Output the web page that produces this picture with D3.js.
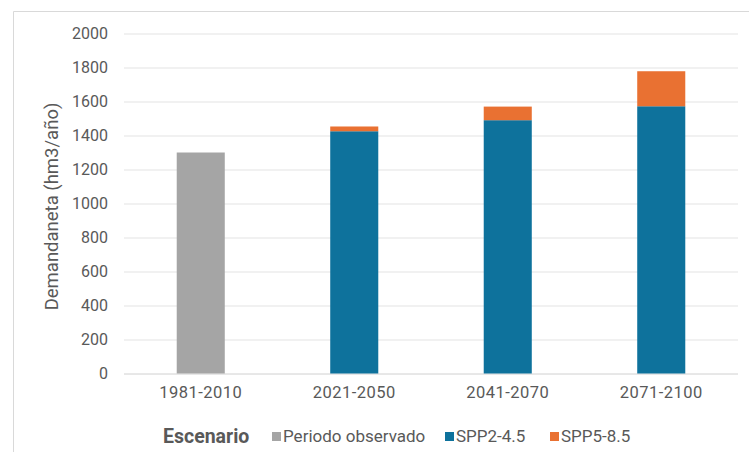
<!DOCTYPE html>
<html>
<head>
<meta charset="utf-8">
<script src="https://cdn.jsdelivr.net/npm/d3@7"></script>
<style>
  body { margin: 0; background: #fff; }
  text { font-family: Roboto, "Liberation Sans", sans-serif; }
</style>
</head>
<body>
<div id="chart"></div>
<script>
/** categories and series */
var periods = ["1981-2010", "2021-2050", "2041-2070", "2071-2100"];
var observed = [1300, 0, 0, 0];
var spp245 = [0, 1425, 1490, 1572];
var spp585 = [0, 28, 80, 206];
var seriesNames = ["Periodo observado", "SPP2-4.5", "SPP5-8.5"];
var seriesColors = ["#a5a5a5", "#0e729c", "#e97132"];
var yTicks = [0, 200, 400, 600, 800, 1000, 1200, 1400, 1600, 1800, 2000];

var W = 749, H = 452;
var margin = {top: 33.5, right: 11, bottom: 78.5, left: 124};
var width = W - margin.left - margin.right,
    height = H - margin.top - margin.bottom;

var svg = d3.select("#chart")
  .append("svg")
    .attr("width", W)
    .attr("height", H);

/** chart area border (only top and left show) */
svg.append("path")
  .attr("d", "M13.5,452 V11.5 H749")
  .attr("fill", "none")
  .attr("stroke", "#d9d9d9");

var g = svg.append("g")
  .attr("transform", "translate(" + margin.left + "," + margin.top + ")");

var x = d3.scaleBand()
  .domain(periods)
  .range([0, width])
  .paddingInner(0.687)
  .paddingOuter(0.3435);

var y = d3.scaleLinear()
  .domain([0, 2000])
  .range([height, 0]);

/** gridlines */
g.append("g")
  .selectAll("line")
  .data(yTicks)
  .enter().append("line")
    .attr("x1", 0)
    .attr("x2", width)
    .attr("y1", function(d) { return Math.round(y(d)) + 0.5; })
    .attr("y2", function(d) { return Math.round(y(d)) + 0.5; })
    .attr("stroke", function(d) { return d === 0 ? "#d0d0d0" : "#e3e3e3"; })
    .attr("stroke-width", 1);

/** y axis labels */
var yAxis = g.append("g")
  .call(d3.axisLeft(y).tickValues(yTicks).tickFormat(d3.format("d")).tickSize(0).tickPadding(16));
yAxis.select(".domain").remove();
yAxis.selectAll("text")
  .attr("fill", "#595959")
  .style("font-size", "16px");

/** x axis labels */
var xAxis = g.append("g")
  .attr("transform", "translate(0," + height + ")")
  .call(d3.axisBottom(x).tickSize(0).tickPadding(13));
xAxis.select(".domain").remove();
xAxis.selectAll("text")
  .attr("fill", "#595959")
  .style("font-size", "16.5px")
  .style("letter-spacing", "0.5px");

/** stacked bars */
var rows = periods.map(function(p, i) {
  return {period: p, s0: observed[i], s1: spp245[i], s2: spp585[i]};
});
var stack = d3.stack().keys(["s0", "s1", "s2"]);
var layers = stack(rows);

g.selectAll("g.layer")
  .data(layers)
  .enter().append("g")
    .attr("class", "layer")
    .attr("fill", function(d, i) { return seriesColors[i]; })
  .selectAll("rect")
  .data(function(d) { return d.filter(function(v) { return v[1] - v[0] > 0; }); })
  .enter().append("rect")
    .attr("x", function(d) { return x(d.data.period); })
    .attr("y", function(d) { return y(d[1]); })
    .attr("width", x.bandwidth())
    .attr("height", function(d) { return y(d[0]) - y(d[1]); });

/** y axis title */
svg.append("text")
  .attr("transform", "translate(58," + (margin.top + height / 2 + 3) + ") rotate(-90)")
  .attr("text-anchor", "middle")
  .attr("fill", "#595959")
  .style("font-size", "18.5px")
  .text("Demandaneta (hm3/año)");

/** legend */
var legend = svg.append("g").attr("transform", "translate(0,437)");
legend.append("text")
  .attr("x", 163)
  .attr("y", 6)
  .attr("fill", "#595959")
  .style("font-size", "19.5px")
  .style("font-weight", "bold")
  .text("Escenario");

var legendX = [272, 445, 550];
var items = legend.selectAll("g.item")
  .data(seriesNames)
  .enter().append("g")
    .attr("class", "item")
    .attr("transform", function(d, i) { return "translate(" + legendX[i] + ",0)"; });
items.append("rect")
  .attr("x", 0)
  .attr("y", -5)
  .attr("width", 9)
  .attr("height", 9)
  .attr("fill", function(d, i) { return seriesColors[i]; });
items.append("text")
  .attr("x", 11)
  .attr("y", 5)
  .attr("fill", "#595959")
  .style("font-size", "17px")
  .text(function(d) { return d; });
</script>
</body>
</html>
